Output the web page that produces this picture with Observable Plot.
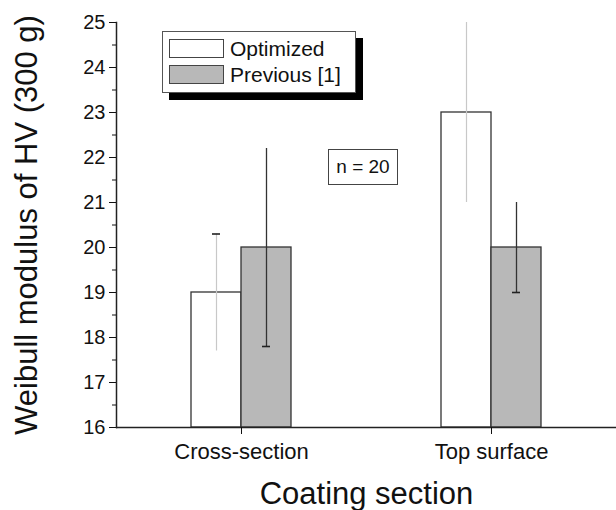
<!DOCTYPE html>
<html><head><meta charset="utf-8">
<script src="https://cdn.jsdelivr.net/npm/d3@7"></script>
<script src="https://cdn.jsdelivr.net/npm/@observablehq/plot@0.6"></script>
<style>
body{margin:0;background:#fff;font-family:"Liberation Sans",Arial,sans-serif;}
#wrap{position:relative;width:616px;height:510px;}
.legend{position:absolute;left:162px;top:31px;width:194px;height:62px;box-sizing:border-box;border:1px solid #555;background:#fff;box-shadow:7px 7px 0 #000;}
.row{position:absolute;left:6px;height:19px;display:flex;align-items:center;}
.sw{width:55px;height:19px;box-sizing:border-box;border:1px solid #444;margin-right:6px;}
.lt{font-size:21px;color:#111;line-height:19px;}
.note{position:absolute;left:328px;top:149px;width:70px;height:36px;box-sizing:border-box;border:1px solid #444;background:#fff;display:flex;align-items:center;justify-content:center;font-size:19px;color:#111;}
</style>
</head><body>
<div id="wrap"></div>
<script>
const categories = ["Cross-section", "Top surface"];
const series = ["Optimized", "Previous [1]"];
const seriesFills = ["#ffffff", "#b8b8b8"];
const optimizedValues = [19, 23];
const previousValues = [20, 20];
const optimizedLow = [17.7, 21];
const optimizedHigh = [20.3, 25];
const previousLow = [17.8, 19];
const previousHigh = [22.2, 21];
const optimizedCaps = [20.3, null];
const previousCaps = [17.8, 19];
const yTicks = [16, 17, 18, 19, 20, 21, 22, 23, 24, 25];
const yMinorTicks = [16.5, 17.5, 18.5, 19.5, 20.5, 21.5, 22.5, 23.5, 24.5];
const noteText = "n = 20";
const xTitle = "Coating section";
const yTitle = "Weibull modulus of HV (300 g)";

const yMin = yTicks[0];
const rows = [];
const caps = [];
categories.forEach((c, i) => {
  rows.push({category: c, series: series[0], value: optimizedValues[i], low: optimizedLow[i], high: optimizedHigh[i]});
  rows.push({category: c, series: series[1], value: previousValues[i], low: previousLow[i], high: previousHigh[i]});
  if (optimizedCaps[i] != null) caps.push({category: c, series: series[0], value: optimizedCaps[i]});
  if (previousCaps[i] != null) caps.push({category: c, series: series[1], value: previousCaps[i]});
});

const chart = Plot.plot({
  width: 616, height: 510,
  marginLeft: 116, marginRight: 0, marginTop: 22, marginBottom: 83,
  style: {fontFamily: '"Liberation Sans", Arial, sans-serif', color: "#111", background: "#fff"},
  fx: {domain: categories, padding: 0},
  x: {domain: series, paddingInner: 0, paddingOuter: 1.5, axis: null},
  y: {domain: [yTicks[0], yTicks[yTicks.length - 1]]},
  color: {domain: series, range: seriesFills},
  marks: [
    Plot.barY(rows, {fx: "category", x: "series", y1: yMin, y2: "value", fill: "series", stroke: "#333", strokeWidth: 1.3}),
    Plot.ruleX(rows.filter(d => d.series === series[0]), {fx: "category", x: "series", y1: "low", y2: "high", stroke: "#c8c8c8", strokeWidth: 1.2}),
    Plot.ruleX(rows.filter(d => d.series === series[1]), {fx: "category", x: "series", y1: "low", y2: "high", stroke: "#333", strokeWidth: 1.3}),
    Plot.tickY(caps, {fx: "category", x: "series", y: "value", stroke: "#222", strokeWidth: 1.6, insetLeft: 21, insetRight: 21}),
    Plot.ruleY([yMin], {stroke: "#222", strokeWidth: 1.5}),
    Plot.frame({anchor: "left", facetAnchor: "left", stroke: "#222", strokeWidth: 1.5}),
    Plot.axisY({ticks: yTicks, tickSize: 7, tickPadding: 4, fontSize: 20, label: null}),
    Plot.axisY({ticks: yMinorTicks, tickSize: 4, tickFormat: () => "", label: null}),
    Plot.axisY({ticks: yTicks, tickSize: 0, tickFormat: () => "", label: yTitle, labelAnchor: "center", labelArrow: "none", labelOffset: 102, fontSize: 31}),
    Plot.axisFx({anchor: "bottom", tickSize: 7, tickPadding: 9, fontSize: 22, label: null}),
    Plot.axisFx({anchor: "bottom", tickSize: 0, tickFormat: () => "", label: xTitle, labelAnchor: "center", labelArrow: "none", labelOffset: 76, fontSize: 31})
  ]
});
const wrap = document.getElementById("wrap");
wrap.appendChild(chart);

const legend = document.createElement("div");
legend.className = "legend";
series.forEach((s, i) => {
  const row = document.createElement("div");
  row.className = "row";
  row.style.top = (i === 0 ? 7 : 33) + "px";
  const sw = document.createElement("div");
  sw.className = "sw";
  sw.style.background = seriesFills[i];
  const t = document.createElement("span");
  t.className = "lt";
  t.textContent = s;
  row.appendChild(sw); row.appendChild(t);
  legend.appendChild(row);
});
wrap.appendChild(legend);

const note = document.createElement("div");
note.className = "note";
note.textContent = noteText;
wrap.appendChild(note);
</script>
</body></html>
